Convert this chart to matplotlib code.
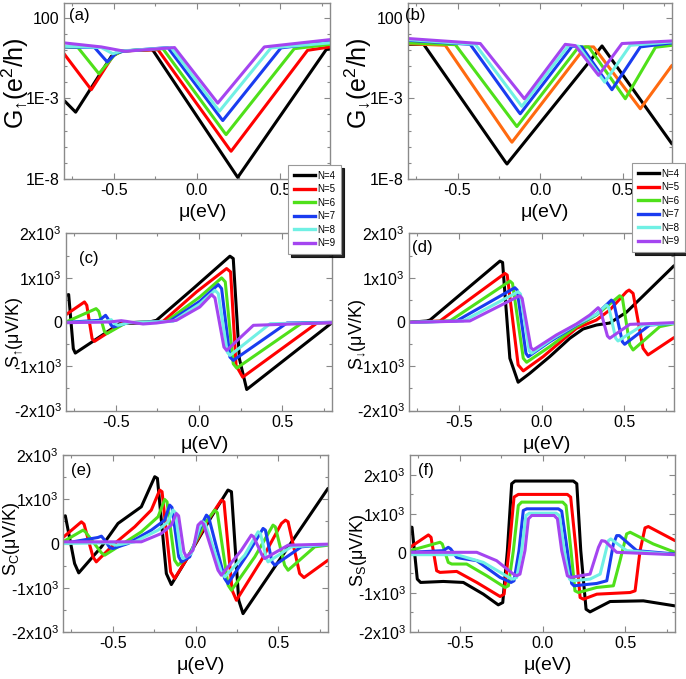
import numpy as np
import matplotlib
matplotlib.use("Agg")
import matplotlib.pyplot as plt
from matplotlib.lines import Line2D

plt.rcParams['font.family'] = ['Liberation Sans', 'DejaVu Sans']
plt.rcParams['mathtext.fontset'] = 'custom'
plt.rcParams['mathtext.rm'] = 'Liberation Sans'
plt.rcParams['mathtext.default'] = 'regular'

sizes = [4, 5, 6, 7, 8, 9]
colors = ['#000000', '#ff0000', '#4fe01a', '#1a3cf0', '#70f0e4', '#a445f0']
colors_b = ['#000000', '#ff6a10', '#4fe01a', '#1a3cf0', '#70f0e4', '#a445f0']

# (a) spin-up conductance, log10(G) vs mu
cond_up = {
    4: [(-0.80, -3.13), (-0.73, -3.86), (-0.515, -0.40), (-0.455, -0.07), (-0.275, 0.01),
        (-0.265, -0.03), (0.235, -7.75), (0.245, -7.9), (0.255, -7.75), (0.777, 0.01), (0.80, 0.07)],
    5: [(-0.80, -0.24), (-0.636, -2.47), (-0.506, -0.38), (-0.455, -0.07), (-0.235, 0.01),
        (0.195, -6.15), (0.205, -6.28), (0.215, -6.15), (0.665, -0.03), (0.80, 0.18)],
    6: [(-0.80, 0.18), (-0.716, 0.14), (-0.59, -1.48), (-0.495, -0.30), (-0.445, -0.07),
        (-0.205, 0.07), (0.165, -5.12), (0.175, -5.25), (0.185, -5.12), (0.585, 0.07), (0.80, 0.34)],
    7: [(-0.80, 0.18), (-0.616, 0.14), (-0.54, -0.75), (-0.485, -0.19), (-0.435, -0.07),
        (-0.175, 0.14), (0.145, -4.25), (0.155, -4.38), (0.165, -4.25), (0.505, 0.12), (0.80, 0.49)],
    8: [(-0.80, 0.22), (-0.576, 0.14), (-0.506, -0.24), (-0.455, -0.07), (-0.155, 0.14),
        (0.125, -3.67), (0.135, -3.80), (0.145, -3.67), (0.445, 0.12), (0.80, 0.43)],
    9: [(-0.80, 0.43), (-0.576, 0.18), (-0.435, -0.09), (-0.135, 0.14), (0.115, -3.17),
        (0.125, -3.30), (0.135, -3.17), (0.405, 0.18), (0.80, 0.63)],
}

# (b) spin-down conductance, log10(G) vs mu
cond_dn = {
    4: [(-0.80, 0.34), (-0.705, 0.34), (-0.21, -6.94), (-0.20, -7.07), (-0.19, -6.94),
        (0.376, 0.24), (0.80, -5.83)],
    5: [(-0.80, 0.38), (-0.574, 0.28), (-0.18, -5.59), (-0.17, -5.72), (-0.16, -5.59),
        (0.275, 0.18), (0.325, 0.18), (0.608, -3.65), (0.80, -0.96)],
    6: [(-0.80, 0.43), (-0.513, 0.32), (-0.15, -4.62), (-0.14, -4.75), (-0.13, -4.62),
        (0.234, 0.18), (0.295, 0.18), (0.517, -3.03), (0.70, 0.16), (0.80, 0.28)],
    7: [(-0.80, 0.59), (-0.423, 0.34), (-0.13, -3.83), (-0.12, -3.96), (-0.11, -3.83),
        (0.194, 0.22), (0.254, 0.18), (0.436, -2.47), (0.608, 0.18), (0.80, 0.43)],
    8: [(-0.80, 0.63), (-0.392, 0.34), (-0.12, -3.37), (-0.11, -3.5), (-0.10, -3.37),
        (0.174, 0.28), (0.234, 0.22), (0.392, -2.0), (0.547, 0.28), (0.80, 0.49)],
    9: [(-0.80, 0.70), (-0.362, 0.39), (-0.105, -2.9), (-0.095, -3.03), (-0.085, -2.9),
        (0.153, 0.34), (0.214, 0.26), (0.355, -1.58), (0.497, 0.39), (0.80, 0.55)],
}

# (c) spin-up thermopower (uV/K)
seeb_up = {
    4: [(-0.80, 604), (-0.784, 619), (-0.756, -604), (-0.744, -702), (-0.478, -38),
        (-0.317, -15), (-0.256, 38), (-0.035, 755), (0.186, 1487), (0.206, 1434),
        (0.243, -830), (0.287, -1525), (0.80, -15)],
    5: [(-0.80, 166), (-0.689, 453), (-0.675, 377), (-0.643, -377), (-0.629, -438),
        (-0.458, -23), (-0.216, 15), (-0.015, 680), (0.166, 1208), (0.19, 1132),
        (0.223, -982), (0.263, -1246), (0.71, -23), (0.80, -15)],
    6: [(-0.80, 0), (-0.619, 302), (-0.603, 242), (-0.569, -211), (-0.554, -264),
        (-0.438, -15), (-0.196, 15), (0.005, 566), (0.136, 997), (0.158, 906),
        (0.206, -944), (0.227, -1042), (0.619, -23), (0.80, -8)],
    7: [(-0.80, -8), (-0.599, 38), (-0.562, 151), (-0.548, 75), (-0.528, -75),
        (-0.514, -113), (-0.428, -15), (-0.176, 15), (0.005, 468), (0.116, 846),
        (0.136, 755), (0.186, -793), (0.206, -868), (0.529, -23), (0.80, -8)],
    8: [(-0.80, -15), (-0.558, 15), (-0.528, 53), (-0.508, -38), (-0.488, -75),
        (-0.418, -15), (-0.156, 15), (0.005, 408), (0.096, 717), (0.116, 642),
        (0.17, -680), (0.186, -755), (0.428, -38), (0.80, -15)],
    9: [(-0.80, -15), (-0.538, 0), (-0.468, 30), (-0.438, 15), (-0.337, -45),
        (-0.256, -23), (-0.136, 38), (0.005, 340), (0.076, 619), (0.096, 544),
        (0.15, -566), (0.166, -642), (0.327, -75), (0.80, -15)],
}

# (d) spin-down thermopower (uV/K)
seeb_dn = {
    4: [(-0.80, -8), (-0.694, 23), (-0.673, 45), (-0.251, 1376), (-0.235, 1346),
        (-0.191, -820), (-0.141, -1361), (-0.07, -1158), (0.05, -782), (0.171, -368),
        (0.251, -158), (0.332, -68), (0.412, -23), (0.512, 218), (0.80, 1271)],
    5: [(-0.80, -8), (-0.613, 23), (-0.221, 1098), (-0.207, 1060), (-0.141, -970),
        (-0.11, -1105), (0.01, -782), (0.211, -143), (0.332, 45), (0.412, 271),
        (0.513, 684), (0.529, 722), (0.553, 647), (0.613, -594), (0.643, -744),
        (0.80, -353)],
    6: [(-0.80, -8), (-0.553, 23), (-0.191, 925), (-0.175, 872), (-0.11, -820),
        (-0.09, -910), (0.05, -556), (0.211, -105), (0.332, 158), (0.472, 594),
        (0.488, 549), (0.533, -519), (0.553, -632), (0.714, -105), (0.80, -38)],
    7: [(-0.80, -8), (-0.513, 23), (-0.161, 775), (-0.147, 722), (-0.094, -707),
        (-0.08, -782), (0.05, -444), (0.211, -68), (0.332, 173), (0.422, 496),
        (0.436, 444), (0.488, -444), (0.502, -504), (0.653, -68), (0.80, -30)],
    8: [(-0.80, -8), (-0.473, 23), (-0.141, 684), (-0.127, 632), (-0.074, -654),
        (-0.06, -707), (0.07, -368), (0.211, -53), (0.332, 173), (0.392, 383),
        (0.406, 331), (0.448, -368), (0.462, -429), (0.613, -68), (0.80, -30)],
    9: [(-0.80, -8), (-0.433, 23), (-0.131, 594), (-0.117, 534), (-0.064, -579),
        (-0.05, -632), (0.09, -293), (0.211, -45), (0.292, 158), (0.342, 323),
        (0.356, 263), (0.398, -316), (0.412, -368), (0.533, -53), (0.80, -15)],
}

# (e) charge thermopower (uV/K)
seeb_c = {
    4: [(-0.80, 604), (-0.786, 626), (-0.73, -453), (-0.705, -664), (-0.568, -75),
        (-0.468, 453), (-0.327, 830), (-0.246, 1509), (-0.23, 1472), (-0.176, -679),
        (-0.146, -928), (-0.045, -302), (0.096, 604), (0.196, 1208), (0.217, 1170),
        (0.261, -1283), (0.287, -1585), (0.80, 1245)],
    5: [(-0.80, 136), (-0.689, 490), (-0.673, 438), (-0.619, -302), (-0.599, -415),
        (-0.488, 0), (-0.367, 377), (-0.267, 755), (-0.216, 1208), (-0.202, 1170),
        (-0.15, -642), (-0.126, -792), (-0.045, -302), (0.076, 528), (0.156, 981),
        (0.172, 943), (0.221, -1057), (0.247, -1283), (0.398, -377), (0.519, 453),
        (0.543, 528), (0.559, 490), (0.629, -679), (0.655, -770), (0.80, -377)],
    6: [(-0.80, 38), (-0.679, 302), (-0.665, 264), (-0.568, -211), (-0.548, -264),
        (-0.468, -75), (-0.327, 264), (-0.226, 604), (-0.186, 996), (-0.172, 943),
        (-0.126, -377), (-0.106, -490), (-0.045, -302), (0.056, 453), (0.116, 755),
        (0.132, 694), (0.197, -943), (0.217, -1057), (0.358, -302), (0.468, 415),
        (0.482, 377), (0.538, -490), (0.559, -604), (0.72, -75), (0.80, -38)],
    7: [(-0.80, 0), (-0.589, 136), (-0.568, 166), (-0.548, 75), (-0.518, -91),
        (-0.498, -113), (-0.407, 0), (-0.267, 302), (-0.186, 528), (-0.156, 868),
        (-0.142, 815), (-0.101, -302), (-0.085, -415), (-0.035, -302), (0.035, 415),
        (0.066, 641), (0.08, 589), (0.176, -792), (0.196, -906), (0.317, -226),
        (0.408, 340), (0.422, 302), (0.462, -415), (0.478, -490), (0.639, -75),
        (0.80, -23)],
    8: [(-0.80, 0), (-0.528, 15), (-0.478, -38), (-0.367, 38), (-0.226, 302),
        (-0.166, 490), (-0.136, 755), (-0.122, 702), (-0.089, -226), (-0.075, -340),
        (-0.025, -226), (0.025, 377), (0.045, 490), (0.06, 438), (0.156, -642),
        (0.177, -755), (0.297, -264), (0.378, 264), (0.392, 226), (0.428, -340),
        (0.438, -415), (0.579, -75), (0.80, -23)],
    9: [(-0.80, 38), (-0.327, 38), (-0.206, 226), (-0.146, 415), (-0.116, 679),
        (-0.102, 626), (-0.07, -189), (-0.055, -302), (-0.015, -151), (0.015, 415),
        (0.035, 490), (0.049, 438), (0.136, -604), (0.156, -717), (0.277, -151),
        (0.337, 189), (0.351, 151), (0.402, -264), (0.418, -340), (0.559, -38),
        (0.80, -15)],
}

# (f) spin thermopower (uV/K)
seeb_s = {
    4: [(-0.80, 664), (-0.788, 664), (-0.756, -655), (-0.736, -740), (-0.599, -715),
        (-0.478, -740), (-0.357, -1038), (-0.267, -1310), (-0.24, -1251), (-0.212, 68),
        (-0.186, 1770), (-0.166, 1838), (0.186, 1838), (0.207, 1770), (0.231, 68),
        (0.263, -1421), (0.287, -1489), (0.408, -1225), (0.609, -1208), (0.80, -1336)],
    5: [(-0.80, 153), (-0.689, 468), (-0.673, 408), (-0.639, -443), (-0.619, -485),
        (-0.518, -460), (-0.397, -740), (-0.256, -1098), (-0.232, -1038), (-0.20, 153),
        (-0.172, 1430), (-0.146, 1498), (0.15, 1498), (0.17, 1430), (0.203, 68),
        (0.227, -1123), (0.247, -1166), (0.328, -1038), (0.529, -996), (0.559, -953),
        (0.589, 68), (0.619, 647), (0.639, 681), (0.80, 323)],
    6: [(-0.80, 68), (-0.619, 281), (-0.605, 238), (-0.569, -230), (-0.548, -272),
        (-0.458, -272), (-0.337, -570), (-0.226, -868), (-0.206, -825), (-0.176, 68),
        (-0.146, 1217), (-0.126, 1302), (0.122, 1302), (0.142, 1217), (0.172, 68),
        (0.196, -953), (0.217, -996), (0.327, -868), (0.428, -825), (0.468, -187),
        (0.508, 494), (0.529, 536), (0.669, 238), (0.80, 26)],
    7: [(-0.80, 26), (-0.599, 68), (-0.569, 153), (-0.554, 111), (-0.518, -102),
        (-0.502, -119), (-0.397, -187), (-0.256, -613), (-0.19, -740), (-0.172, -698),
        (-0.142, 68), (-0.116, 1089), (-0.095, 1132), (0.096, 1132), (0.116, 1072),
        (0.15, 68), (0.176, -766), (0.19, -825), (0.327, -766), (0.388, -698),
        (0.428, 238), (0.448, 451), (0.464, 451), (0.569, 68), (0.80, -17)],
    8: [(-0.80, -34), (-0.518, -34), (-0.357, -230), (-0.196, -630), (-0.176, -655),
        (-0.156, -613), (-0.126, 68), (-0.10, 962), (-0.079, 1021), (0.082, 1021),
        (0.102, 962), (0.131, 68), (0.163, -655), (0.183, -698), (0.287, -655),
        (0.348, -528), (0.398, 323), (0.412, 366), (0.509, 68), (0.80, -34)],
    9: [(-0.80, 26), (-0.397, 26), (-0.277, -187), (-0.176, -528), (-0.156, -570),
        (-0.136, -528), (-0.106, 68), (-0.085, 877), (-0.065, 962), (0.07, 962),
        (0.09, 877), (0.116, 68), (0.15, -570), (0.17, -613), (0.287, -528),
        (0.338, 153), (0.357, 323), (0.378, 306), (0.448, 26), (0.80, -34)],
}

s_ticks = [-2000, -1000, 0, 1000, 2000]
s_ticklabels = ['-2x10$^3$', '-1x10$^3$', '0', '1x10$^3$', '2x10$^3$']
mu_ticks = [-0.5, 0.0, 0.5]
mu_ticklabels = ['-0.5', '0.0', '0.5']

fig = plt.figure(figsize=(6.86, 6.79), dpi=100)

W, H = 686.0, 679.0
def box(left, top, right, bottom):
    return [left / W, 1 - bottom / H, (right - left) / W, (bottom - top) / H]

ax_a = fig.add_axes(box(64, 3, 330, 179))
ax_b = fig.add_axes(box(408, 3, 672, 179))
ax_c = fig.add_axes(box(66, 233.5, 332, 410.5))
ax_d = fig.add_axes(box(409, 233.5, 674, 410.5))
ax_e = fig.add_axes(box(63, 455, 328, 632))
ax_f = fig.add_axes(box(410, 455, 675, 632))


def style_axis(ax):
    ax.set_xlim(-0.8, 0.8)
    ax.set_xticks(mu_ticks)
    ax.set_xticklabels(mu_ticklabels)
    ax.set_xticks([-0.75, -0.25, 0.25, 0.75], minor=True)
    ax.tick_params(which='both', direction='in', top=True, right=True,
                   color='#888888', labelsize=11.5, pad=3)
    ax.tick_params(which='major', length=4, width=0.8)
    ax.tick_params(which='minor', length=2, width=0.8)
    for sp in ax.spines.values():
        sp.set_color('#8a8a8a')
        sp.set_linewidth(1.0)


def plot_curves(ax, data, cols, logy=False):
    for n, c in zip(sizes, cols):
        pts = np.array(data[n])
        y = 10 ** pts[:, 1] if logy else pts[:, 1]
        ax.plot(pts[:, 0], y, color=c, lw=2.2, solid_joinstyle='round',
                solid_capstyle='round', label='N=%d' % n)


for ax, data, cols in [(ax_a, cond_up, colors), (ax_b, cond_dn, colors_b)]:
    plot_curves(ax, data, cols, logy=True)
    ax.set_yscale('log')
    ax.set_ylim(1e-8, 10 ** 2.9)
    style_axis(ax)
    ax.set_yticks([1e-8, 1e-3, 1e2])
    ax.set_yticklabels(['1E-8', '1E-3', '100'])
    ax.set_yticks([10.0 ** k for k in range(-7, 3) if k not in (-3, 2)], minor=True)
    ax.set_yticklabels([], minor=True)

for ax, data in [(ax_c, seeb_up), (ax_d, seeb_dn), (ax_e, seeb_c), (ax_f, seeb_s)]:
    plot_curves(ax, data, colors)
    style_axis(ax)
    ax.set_ylim(-2000, 2000)
    ax.set_yticks(s_ticks)
    ax.set_yticklabels(s_ticklabels)
    ax.set_yticks([-1500, -500, 500, 1500], minor=True)
ax_f.set_ylim(-2000, 2500)

# panel tags
for ax, tag, x, y in [(ax_a, '(a)', 0.02, 0.93), (ax_b, '(b)', -0.01, 0.93),
                      (ax_c, '(c)', 0.05, 0.86), (ax_d, '(d)', 0.01, 0.92),
                      (ax_e, '(e)', 0.03, 0.91), (ax_f, '(f)', 0.03, 0.91)]:
    ax.text(x, y, tag, transform=ax.transAxes, fontsize=12, ha='left', va='center')

# axis labels
ylabels = [(ax_a, 'G$_{↑}$(e$^2$/h)', -0.183, 0.545, 18),
           (ax_b, 'G$_{↓}$(e$^2$/h)', -0.188, 0.545, 18),
           (ax_c, 'S$_{↑}$(μV/K)', -0.195, 0.44, 13),
           (ax_d, 'S$_{↓}$(μV/K)', -0.195, 0.43, 13),
           (ax_e, 'S$_C$(μV/K)', -0.195, 0.525, 13),
           (ax_f, 'S$_S$(μV/K)', -0.195, 0.46, 13)]
for ax, txt, x, y, fs in ylabels:
    ax.text(x, y, txt, transform=ax.transAxes, rotation=90, fontsize=fs,
            ha='center', va='center')

for ax in [ax_a, ax_b, ax_c, ax_d, ax_e, ax_f]:
    ax.text(0.52, -0.19, 'μ(eV)', transform=ax.transAxes, fontsize=14,
            ha='center', va='center')

handles = [Line2D([], [], color=c, lw=2.4) for c in colors]
labels = ['N=%d' % n for n in sizes]
for x0, y0 in [(288, 165), (632, 163)]:
    leg = fig.legend(handles, labels, loc='upper left',
                     bbox_to_anchor=(x0 / W, 1 - y0 / H), borderaxespad=0,
                     fontsize=7, handlelength=2.2, handletextpad=0.2,
                     labelspacing=0.36, borderpad=0.6, frameon=True,
                     fancybox=False, shadow={'color': 'black', 'alpha': 0.85},
                     edgecolor='#999999')
    leg.get_frame().set_linewidth(0.8)

fig.savefig('out.png', dpi=100)
